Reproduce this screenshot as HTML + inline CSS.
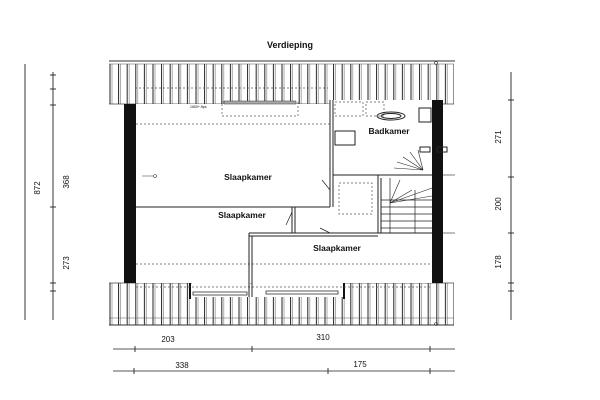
<!DOCTYPE html>
<html><head><style>
html,body{margin:0;padding:0;background:#fff;width:600px;height:400px;overflow:hidden}
svg{display:block}
text{font-family:"Liberation Sans",sans-serif;fill:#111}
</style></head><body>
<svg width="600" height="400" viewBox="0 0 600 400" xmlns="http://www.w3.org/2000/svg">
<defs>
<pattern id="tiles" x="109" y="0" width="8.6" height="400" patternUnits="userSpaceOnUse">
<line x1="1" y1="0" x2="1" y2="400" stroke="#222" stroke-width="1"/>
<line x1="3" y1="0" x2="3" y2="400" stroke="#777" stroke-width="0.6"/>
</pattern>
</defs>
<text x="290" y="48" font-size="9" text-anchor="middle" font-weight="bold" fill="#333">Verdieping</text>
<!-- top roof -->
<line x1="109" y1="61" x2="455" y2="61" stroke="#333" stroke-width="1"/>
<rect x="109" y="64" width="345" height="40" fill="url(#tiles)"/>
<line x1="109" y1="64" x2="454" y2="64" stroke="#555" stroke-width="0.6"/>
<line x1="109" y1="104" x2="454" y2="104" stroke="#444" stroke-width="0.8"/>
<!-- bottom roof -->
<rect x="109" y="283" width="345" height="42" fill="url(#tiles)"/>
<line x1="109" y1="283" x2="454" y2="283" stroke="#444" stroke-width="0.8"/>
<line x1="109" y1="325" x2="454" y2="325" stroke="#333" stroke-width="1"/>
<line x1="109" y1="318" x2="454" y2="318" stroke="#555" stroke-width="0.5"/>
<!-- openings in bottom roof -->
<rect x="192" y="283" width="58" height="14" fill="#fff"/>
<rect x="252" y="283" width="92" height="14" fill="#fff"/>
<rect x="193" y="292" width="54" height="3" fill="#fff" stroke="#333" stroke-width="0.8"/>
<rect x="266" y="291" width="72" height="3" fill="#fff" stroke="#333" stroke-width="0.8"/>
<line x1="190" y1="283" x2="190" y2="299" stroke="#111" stroke-width="2"/>
<line x1="344" y1="283" x2="344" y2="299" stroke="#111" stroke-width="2"/>
<!-- interior white -->
<rect x="136" y="104" width="296" height="179" fill="#fff"/>
<rect x="330" y="100" width="102" height="4" fill="#fff"/>
<!-- black side walls -->
<rect x="124" y="104" width="12" height="179" fill="#111"/>
<rect x="432" y="100" width="11" height="183" fill="#111"/>
<!-- dashed lines -->
<g stroke="#555" stroke-width="0.7" stroke-dasharray="2,2" fill="none">
<line x1="136" y1="124" x2="330" y2="124"/>
<line x1="135" y1="88" x2="328" y2="88"/>
<line x1="136" y1="264" x2="432" y2="264"/>
<rect x="222" y="102" width="76" height="14"/>
<rect x="335" y="102" width="28" height="14"/>
<rect x="366" y="102" width="18" height="14"/>
<rect x="339" y="183" width="33" height="31"/>
<line x1="136" y1="287" x2="432" y2="287"/>
</g>
<rect x="224" y="101" width="72" height="3" fill="#aaa" stroke="#333" stroke-width="0.5"/>
<text x="190" y="108" font-size="3.5" fill="#444">1650+.ftps</text>
<!-- walls -->
<g stroke="#222" stroke-width="1" fill="none">
<line x1="136" y1="207" x2="330" y2="207"/>
<line x1="330" y1="100" x2="330" y2="207"/>
<line x1="333" y1="100" x2="333" y2="207"/>
<line x1="333" y1="175" x2="432" y2="175"/>
<line x1="292" y1="207" x2="292" y2="233"/>
<line x1="295" y1="207" x2="295" y2="233"/>
<line x1="249" y1="233" x2="432" y2="233"/>
<line x1="249" y1="236" x2="378" y2="236"/>
<line x1="249" y1="233" x2="249" y2="297"/>
<line x1="252" y1="236" x2="252" y2="297"/>
<line x1="378" y1="175" x2="378" y2="233"/>
<line x1="381" y1="178" x2="381" y2="233"/>
<!-- stairs -->
<line x1="381" y1="200" x2="432" y2="200" stroke-width="0.7"/>
<line x1="381" y1="207" x2="432" y2="207" stroke-width="0.7"/>
<line x1="381" y1="214" x2="432" y2="214" stroke-width="0.7"/>
<line x1="381" y1="221" x2="432" y2="221" stroke-width="0.7"/>
<line x1="381" y1="228" x2="432" y2="228" stroke-width="0.7"/>
<line x1="390" y1="178" x2="390" y2="233" stroke-width="0.7"/>
<line x1="415" y1="190" x2="415" y2="233" stroke-width="0.7"/>
<line x1="390" y1="203" x2="400" y2="180" stroke-width="0.6"/>
<line x1="390" y1="203" x2="432" y2="188" stroke-width="0.6"/>
<line x1="390" y1="203" x2="432" y2="196" stroke-width="0.6"/>
<line x1="390" y1="203" x2="412" y2="190" stroke-width="0.6"/>
<line x1="423" y1="170" x2="397" y2="162" stroke-width="0.6"/>
<line x1="423" y1="170" x2="403" y2="157" stroke-width="0.6"/>
<line x1="423" y1="170" x2="410" y2="152" stroke-width="0.6"/>
<line x1="423" y1="170" x2="418" y2="150" stroke-width="0.6"/>
<line x1="423" y1="170" x2="394" y2="168" stroke-width="0.6"/>
<!-- door swings -->
<line x1="330" y1="190" x2="322" y2="180" stroke-width="0.7"/>
<line x1="292" y1="212" x2="286" y2="225" stroke-width="0.7"/>
<line x1="330" y1="233" x2="320" y2="228" stroke-width="0.7"/>
<!-- fixtures -->
<rect x="335" y="131" width="20" height="14"/>
<ellipse cx="391" cy="116" rx="14" ry="4"/>
<ellipse cx="391" cy="116" rx="10" ry="2.5"/>
<rect x="419" y="108" width="12" height="14"/>
<rect x="420" y="147" width="10" height="5"/>
<rect x="437" y="147" width="10" height="5"/>
</g>
<line x1="443" y1="175" x2="455" y2="175" stroke="#444" stroke-width="0.7"/>
<line x1="443" y1="233" x2="455" y2="233" stroke="#444" stroke-width="0.7"/>
<circle cx="436" cy="63" r="1.5" fill="none" stroke="#333" stroke-width="0.6"/>
<circle cx="436" cy="324" r="1.5" fill="none" stroke="#333" stroke-width="0.6"/>
<circle cx="155" cy="176" r="1.5" fill="none" stroke="#333" stroke-width="0.6"/>
<line x1="142" y1="176" x2="153" y2="176" stroke="#555" stroke-width="0.6"/>
<!-- labels -->
<text x="248" y="180" font-size="8.5" font-weight="bold" text-anchor="middle">Slaapkamer</text>
<text x="242" y="218" font-size="8.5" font-weight="bold" text-anchor="middle">Slaapkamer</text>
<text x="337" y="251" font-size="8.5" font-weight="bold" text-anchor="middle">Slaapkamer</text>
<text x="389" y="134" font-size="8.5" font-weight="bold" text-anchor="middle">Badkamer</text>
<!-- dimensions -->
<g stroke="#222" stroke-width="0.9">
<line x1="25" y1="64" x2="25" y2="320"/>
<line x1="53" y1="72" x2="53" y2="320"/>
<line x1="50" y1="75" x2="56" y2="75"/><line x1="50" y1="89" x2="56" y2="89"/><line x1="50" y1="105" x2="56" y2="105"/>
<line x1="50" y1="207" x2="56" y2="207"/><line x1="50" y1="283" x2="56" y2="283"/><line x1="50" y1="291" x2="56" y2="291"/>
<line x1="511" y1="72" x2="511" y2="320"/>
<line x1="508" y1="100" x2="514" y2="100"/><line x1="508" y1="177" x2="514" y2="177"/><line x1="508" y1="233" x2="514" y2="233"/>
<line x1="508" y1="283" x2="514" y2="283"/><line x1="508" y1="291" x2="514" y2="291"/>
<line x1="113" y1="349" x2="455" y2="349" stroke-width="0.7"/>
<line x1="135" y1="346" x2="135" y2="352"/><line x1="252" y1="346" x2="252" y2="352"/><line x1="430" y1="346" x2="430" y2="352"/>
<line x1="113" y1="371" x2="455" y2="371" stroke-width="0.7"/>
<line x1="134" y1="368" x2="134" y2="374"/><line x1="328" y1="368" x2="328" y2="374"/><line x1="430" y1="368" x2="430" y2="374"/>
</g>
<g font-size="8">
<text transform="translate(40,188) rotate(-90)" text-anchor="middle">872</text>
<text transform="translate(69,182) rotate(-90)" text-anchor="middle">368</text>
<text transform="translate(69,263) rotate(-90)" text-anchor="middle">273</text>
<text transform="translate(501,137) rotate(-90)" text-anchor="middle">271</text>
<text transform="translate(501,204) rotate(-90)" text-anchor="middle">200</text>
<text transform="translate(501,262) rotate(-90)" text-anchor="middle">178</text>
<text x="168" y="342" text-anchor="middle">203</text>
<text x="323" y="340" text-anchor="middle">310</text>
<text x="182" y="368" text-anchor="middle">338</text>
<text x="360" y="367" text-anchor="middle">175</text>
</g>
</svg>
</body></html>
